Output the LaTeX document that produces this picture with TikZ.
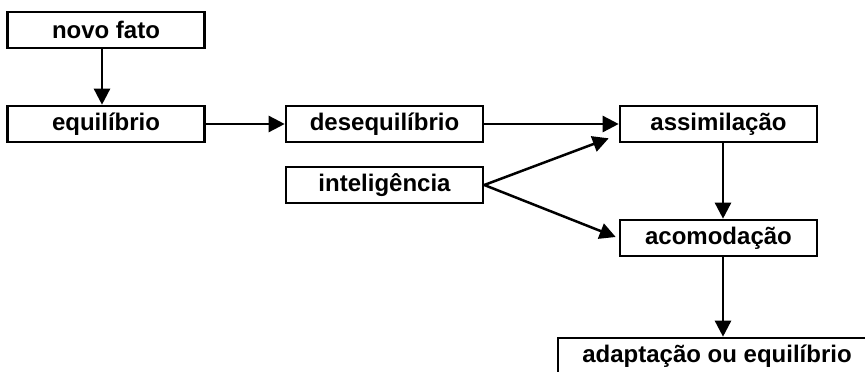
\documentclass[tikz,border=0pt]{standalone}
\usepackage{fontspec}
\setmainfont{Liberation Sans}
\usetikzlibrary{arrows.meta,calc}
\begin{document}
\begin{tikzpicture}[x=1pt,y=-1pt,
  box/.style={draw, line width=2.6pt, minimum width=197pt, minimum height=36pt, inner sep=0pt, font=\fontsize{24}{28}\selectfont\bfseries},
  arr/.style={line width=2.5pt, -{Triangle[length=16pt,width=16pt]}}]
\useasboundingbox (0,0) rectangle (865,372);
\clip (0,0) rectangle (865,372);
\node[box] (nf) at (106,30) {novo fato};
\node[box] (eq) at (106,124) {equilíbrio};
\node[box] (des) at (384.5,124) {desequilíbrio};
\node[box] (int) at (384.5,185) {inteligência};
\node[box] (ass) at (718.5,124) {assimilação};
\node[box] (aco) at (718.5,238) {acomodação};
\node[box, minimum width=318pt] (ad) at (717,356) {adaptação ou equilíbrio};
\draw[arr] ($(nf.south)+(-4,0)$) -- ($(eq.north)+(-4,0)$);
\draw[arr] (eq.east) -- (des.west);
\draw[arr] (des.east) -- (ass.west);
\draw[arr] (int.east) -- ($(ass.south west)+(-10,-5)$);
\draw[arr] (int.east) -- ($(aco.west)+(-3,-1)$);
\draw[arr] ($(ass.south)+(4.5,0)$) -- ($(aco.north)+(4.5,0)$);
\draw[arr] ($(aco.south)+(4.5,0)$) -- ($(ad.north)+(6,0)$);
\end{tikzpicture}
\end{document}
